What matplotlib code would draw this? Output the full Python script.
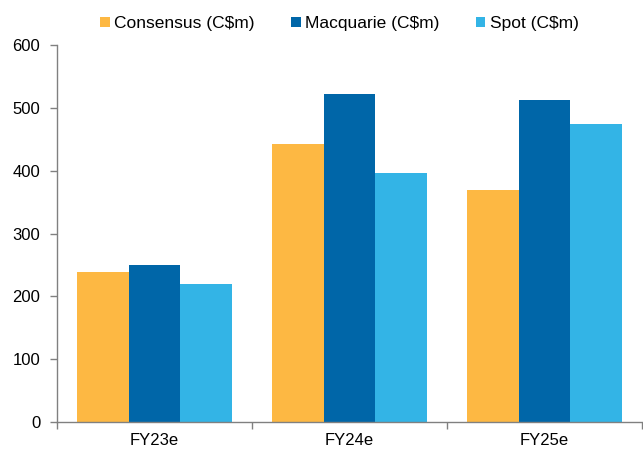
import numpy as np
import matplotlib.pyplot as plt
from matplotlib.patches import Patch

plt.rcParams['font.family'] = ['Liberation Sans', 'DejaVu Sans']

years = ["FY23e", "FY24e", "FY25e"]
consensus = [239, 443, 369]
macquarie = [250, 522, 513]
spot = [220, 397, 475]

labels = ["Consensus (C$m)", "Macquarie (C$m)", "Spot (C$m)"]
colors = ["#FDB843", "#0066A8", "#33B4E6"]

fig = plt.figure(figsize=(6.43, 4.5), dpi=100)
ax = fig.add_axes([0.0886, 0.0622, 0.91, 0.8378])

x = np.arange(len(years))
w = 0.264
for i, (vals, c) in enumerate(zip([consensus, macquarie, spot], colors)):
    ax.bar(x + (i - 1) * w, vals, width=w, color=c, edgecolor='none')

ax.set_xlim(-0.5, 2.5)
ax.set_ylim(0, 600)
ax.set_yticks(range(0, 601, 100))
ax.set_xticks(x)
ax.set_xticklabels(years)
ax.set_xticks([-0.5, 0.5, 1.5, 2.5], minor=True)
ax.tick_params(axis='x', which='major', length=0, pad=8, labelsize=12)
ax.tick_params(axis='x', which='minor', length=5, color='#808080', width=1)
ax.tick_params(axis='y', length=5, color='#808080', width=1, labelsize=12, pad=7)

for s in ['top', 'right']:
    ax.spines[s].set_visible(False)
for s in ['left', 'bottom']:
    ax.spines[s].set_color('#808080')
    ax.spines[s].set_linewidth(1)

handles = [Patch(facecolor=c, edgecolor='none') for c in colors]
fig.legend(handles, labels, loc='center', bbox_to_anchor=(0.528, 0.947), ncol=3,
           frameon=False, fontsize=12.5, handlelength=0.55, handleheight=0.55,
           handletextpad=0.25, columnspacing=2.1)

fig.savefig("out.png", dpi=100)
